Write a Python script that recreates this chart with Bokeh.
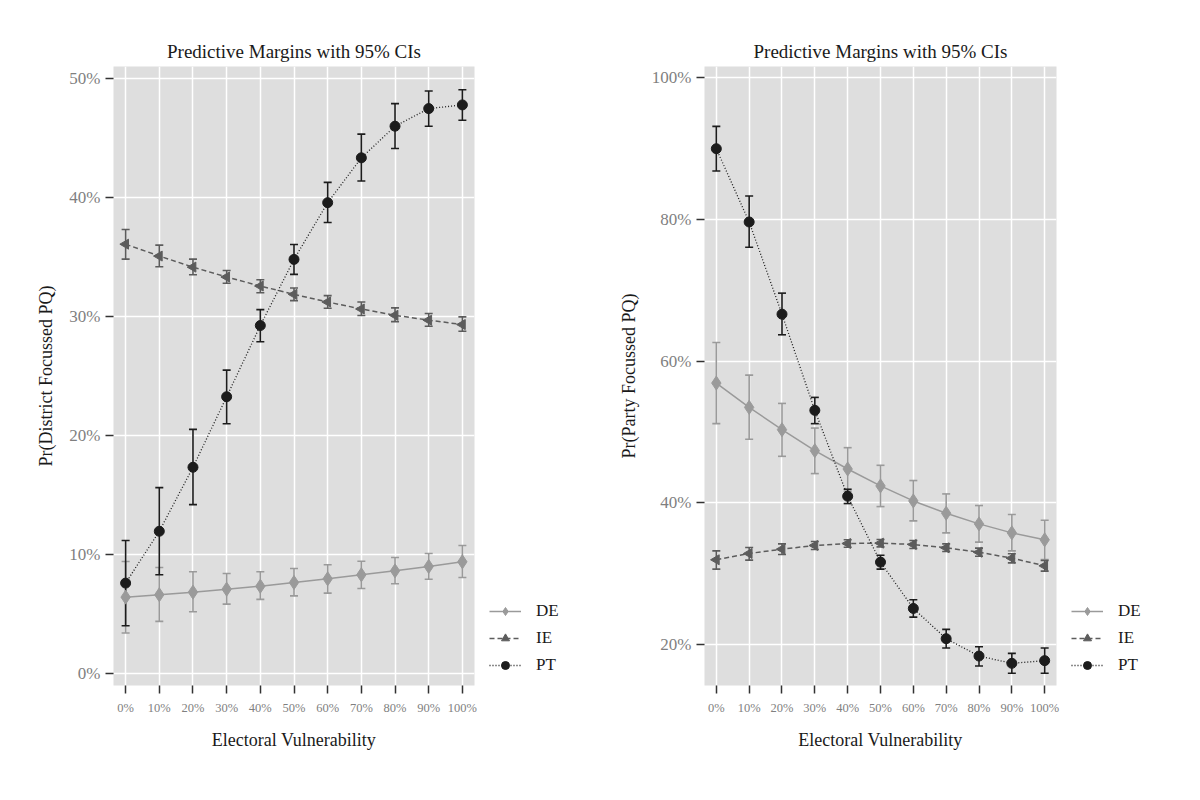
from bokeh.plotting import figure
from bokeh.models import (Range1d, FixedTicker, Whisker, TeeHead, ColumnDataSource,
                          Legend, LegendItem)
from bokeh.layouts import row
from bokeh.embed import file_html
from bokeh.resources import INLINE

# ---------------- data ----------------
x_vals = [0, 10, 20, 30, 40, 50, 60, 70, 80, 90, 100]
x_labels = ["0%", "10%", "20%", "30%", "40%", "50%", "60%", "70%", "80%", "90%", "100%"]

# Left panel: Pr(District Focussed PQ)
dist_de = [6.38, 6.58, 6.80, 7.05, 7.30, 7.61, 7.92, 8.26, 8.59, 8.96, 9.35]
dist_de_hi = [9.38, 8.87, 8.51, 8.37, 8.51, 8.79, 9.10, 9.40, 9.71, 10.05, 10.72]
dist_de_lo = [3.36, 4.34, 5.15, 5.79, 6.19, 6.49, 6.72, 7.11, 7.50, 7.89, 8.03]
dist_ie = [36.06, 35.06, 34.13, 33.30, 32.54, 31.84, 31.20, 30.61, 30.08, 29.67, 29.30]
dist_ie_hi = [37.29, 35.98, 34.80, 33.85, 33.07, 32.37, 31.73, 31.20, 30.70, 30.23, 29.95]
dist_ie_lo = [34.80, 34.16, 33.49, 32.77, 31.98, 31.31, 30.67, 30.06, 29.55, 29.16, 28.74]
dist_pt = [7.56, 11.92, 17.30, 23.23, 29.22, 34.78, 39.55, 43.32, 45.98, 47.46, 47.77]
dist_pt_hi = [11.14, 15.59, 20.49, 25.47, 30.56, 36.03, 41.26, 45.31, 47.88, 48.94, 49.05]
dist_pt_lo = [3.97, 8.26, 14.16, 20.96, 27.85, 33.52, 37.88, 41.37, 44.11, 45.98, 46.48]
dist_yticks = [0, 10, 20, 30, 40, 50]
dist_ylabels = ["0%", "10%", "20%", "30%", "40%", "50%"]

# Right panel: Pr(Party Focussed PQ)
party_de = [56.90, 53.47, 50.32, 47.36, 44.77, 42.38, 40.26, 38.52, 37.02, 35.75, 34.77]
party_de_hi = [62.64, 58.03, 54.03, 50.55, 47.78, 45.29, 43.14, 41.25, 39.61, 38.34, 37.54]
party_de_lo = [51.17, 48.96, 46.56, 44.12, 41.63, 39.46, 37.44, 35.75, 34.44, 33.21, 32.00]
party_ie = [31.95, 32.84, 33.45, 33.97, 34.25, 34.30, 34.11, 33.64, 33.02, 32.18, 31.10]
party_ie_hi = [33.21, 33.68, 34.20, 34.53, 34.77, 34.81, 34.67, 34.20, 33.59, 32.80, 31.85]
party_ie_lo = [30.63, 31.90, 32.70, 33.40, 33.73, 33.78, 33.55, 33.12, 32.46, 31.52, 30.35]
party_pt = [89.99, 79.65, 66.63, 53.05, 40.92, 31.62, 25.08, 20.81, 18.36, 17.33, 17.71]
party_pt_hi = [93.14, 83.32, 69.60, 54.88, 41.91, 32.60, 26.30, 22.13, 19.68, 18.74, 19.49]
party_pt_lo = [86.84, 76.08, 63.72, 51.17, 39.89, 30.63, 23.86, 19.49, 16.95, 15.92, 15.92]
party_yticks = [20, 40, 60, 80, 100]
party_ylabels = ["20%", "40%", "60%", "80%", "100%"]

series_names = ["DE", "IE", "PT"]

# ---------------- style ----------------
FONT = "Liberation Serif"
BG = "#dedede"
COL = {"DE": "#9a9a9a", "IE": "#5c5c5c", "PT": "#1c1c1c"}
DASH = {"DE": "solid", "IE": "5 3", "PT": "1 2"}
MARK = {"DE": "diamond", "IE": "triangle", "PT": "circle"}
MSIZE = {"DE": 14, "IE": 10, "PT": 10}
ANGLE = {"DE": 0, "IE": 1.5708, "PT": 0}
H = 792


def make_panel(ylab, yrange, yticks, ylabels, data, width, b_left, b_right):
    p = figure(output_backend="svg", toolbar_location=None,
               width=width, height=H,
               x_range=Range1d(-3.6, 103.6), y_range=Range1d(*yrange),
               min_border_left=b_left, min_border_right=b_right,
               min_border_top=66, min_border_bottom=107,
               background_fill_color=BG, border_fill_color="white",
               outline_line_color=None)
    p.title.text = "Predictive Margins with 95% CIs"
    p.title.align = "center"
    p.title.text_font = FONT
    p.title.text_font_style = "normal"
    p.title.text_font_size = "19px"
    p.title.text_color = "#1a1a1a"
    p.title.offset = 0
    p.title.standoff = 10

    p.xaxis.ticker = FixedTicker(ticks=x_vals)
    p.xaxis.major_label_overrides = {v: l for v, l in zip(x_vals, x_labels)}
    p.yaxis.ticker = FixedTicker(ticks=yticks)
    p.yaxis.major_label_overrides = {v: l for v, l in zip(yticks, ylabels)}
    for ax in (p.xaxis[0], p.yaxis[0]):
        ax.axis_line_color = None
        ax.major_tick_in = 0
        ax.major_tick_out = 8
        ax.major_tick_line_color = "#333333"
        ax.major_tick_line_width = 1.5
        ax.minor_tick_line_color = None
        ax.major_label_text_font = FONT
        ax.major_label_text_color = "#7f7f7f"
        ax.axis_label_text_font = FONT
        ax.axis_label_text_font_style = "normal"
        ax.axis_label_text_color = "#1a1a1a"
        ax.axis_label_text_font_size = "18px"
    p.xaxis.major_label_text_font_size = "12.5px"
    p.xaxis.major_label_standoff = 7
    p.yaxis.major_label_text_font_size = "17px"
    p.yaxis.major_label_standoff = 5
    p.xaxis.axis_label = "Electoral Vulnerability"
    p.xaxis.axis_label_standoff = 12
    p.yaxis.axis_label = ylab
    p.yaxis.axis_label_standoff = 10

    p.xgrid.grid_line_color = "white"
    p.ygrid.grid_line_color = "white"
    p.xgrid.grid_line_width = 1.5
    p.ygrid.grid_line_width = 1.5

    srcs = {}
    for name in series_names:
        y, hi, lo = data[name]
        src = ColumnDataSource(dict(x=x_vals, y=y, hi=hi, lo=lo))
        srcs[name] = src
        c = COL[name]
        lw = 1.5 if name != "PT" else 1.3
        p.line("x", "y", source=src, line_color=c, line_width=lw,
               line_dash=DASH[name])
        w = Whisker(base="x", upper="hi", lower="lo", source=src,
                    line_color=c, line_width=1.6,
                    upper_head=TeeHead(size=8, line_color=c, line_width=1.6),
                    lower_head=TeeHead(size=8, line_color=c, line_width=1.6))
        p.add_layout(w)
        p.scatter("x", "y", source=src, marker=MARK[name], size=MSIZE[name],
                  angle=ANGLE[name], fill_color=c, line_color=c)

    # separate legend strip (same sources, drawn off-range so only the key shows)
    lg = figure(output_backend="svg", toolbar_location=None,
                width=120, height=H, x_range=Range1d(-1000, -999),
                y_range=Range1d(-1000, -999), x_axis_type=None, y_axis_type=None,
                min_border=0, outline_line_color=None,
                background_fill_color="white", border_fill_color="white")
    lg.grid.visible = False
    items = []
    for name in series_names:
        src = srcs[name]
        c = COL[name]
        lw = 1.5 if name != "PT" else 1.3
        ln = lg.line("x", "y", source=src, line_color=c, line_width=lw,
                     line_dash=DASH[name])
        sc = lg.scatter("x", "y", source=src, marker=MARK[name], size=MSIZE[name],
                        angle=ANGLE[name], fill_color=c, line_color=c)
        items.append(LegendItem(label=name, renderers=[ln, sc]))
    leg = Legend(items=items, location=(9, 10), orientation="vertical",
                 label_text_font=FONT, label_text_font_size="17px",
                 label_text_color="#1a1a1a", glyph_width=32, glyph_height=20,
                 label_standoff=15, spacing=7, padding=4, margin=0,
                 border_line_color=None, background_fill_alpha=0)
    lg.add_layout(leg)
    return p, lg


left, left_leg = make_panel("Pr(District Focussed PQ)", (-1.05, 51.0), dist_yticks,
                            dist_ylabels,
                            {"DE": (dist_de, dist_de_hi, dist_de_lo),
                             "IE": (dist_ie, dist_ie_hi, dist_ie_lo),
                             "PT": (dist_pt, dist_pt_hi, dist_pt_lo)},
                            480, 113, 6)
right, right_leg = make_panel("Pr(Party Focussed PQ)", (14.2, 101.6), party_yticks,
                              party_ylabels,
                              {"DE": (party_de, party_de_hi, party_de_lo),
                               "IE": (party_ie, party_ie_hi, party_ie_lo),
                               "PT": (party_pt, party_pt_hi, party_pt_lo)},
                              462, 104, 6)

layout = row(left, left_leg, right, right_leg, spacing=0)
open("out.html", "w").write(file_html(layout, INLINE))
